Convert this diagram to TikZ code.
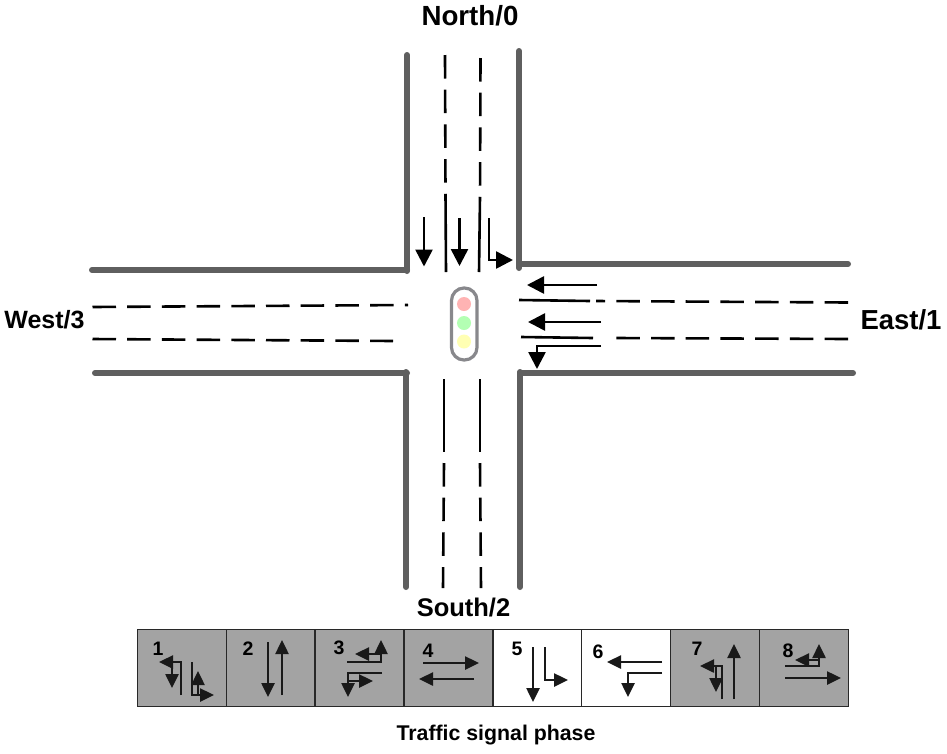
\documentclass[tikz,border=0pt]{standalone}
\usepackage{xcolor}
\usepackage{fontspec}
\setmainfont{Liberation Sans}
\usetikzlibrary{arrows.meta}
\definecolor{mykerb}{RGB}{95,95,95}
\definecolor{mypanel}{RGB}{163,163,163}
\definecolor{myframe}{RGB}{40,40,40}
\definecolor{mycase}{RGB}{136,136,140}
\definecolor{lampred}{RGB}{255,179,179}
\definecolor{lampgreen}{RGB}{179,255,179}
\definecolor{lampyellow}{RGB}{255,255,179}
\tikzset{
  kerb/.style={line width=6pt, color=mykerb, line cap=round},
  lane/.style={line width=2.6pt, color=black},
  dashlane/.style={lane, dash pattern=on 23.5pt off 11.2pt},
  roadarrow/.style={-{Stealth[length=17pt, width=17pt, inset=0pt]}, line width=2.6pt, color=black},
  phasearrow/.style={-{Stealth[length=14pt, width=13pt, inset=0pt]}, line width=2.5pt, color=black!90},
  cellgrey/.style={rectangle, draw=myframe, fill=mypanel, minimum width=89pt,
    minimum height=77pt, line width=1.4pt, outer sep=0pt},
  cellwhite/.style={cellgrey, fill=white},
  cellnum/.style={inner sep=0pt, font=\fontsize{19.5}{20}\selectfont\bfseries},
  roadname/.style={inner sep=0pt, font=\fontsize{#1}{28}\selectfont\bfseries},
  lamp/.style={circle, minimum size=14pt, inner sep=0pt, outer sep=0pt}
}

\begin{document}
\begin{tikzpicture}[x=1pt, y=-1pt]
  \useasboundingbox (0,0) rectangle (947,753);

  % Kerbs
  \draw[kerb] (407,55) -- (407,271);
  \draw[kerb] (92,270) -- (407,270);
  \draw[kerb] (519,51) -- (519,268);
  \draw[kerb] (519,264) -- (848,264);
  \draw[kerb] (95,373) -- (407,373);
  \draw[kerb] (406,372) -- (406,587);
  \draw[kerb] (520,373) -- (853,373);
  \draw[kerb] (520,372) -- (520,587);

  % North lanes
  \draw[dashlane] (445,55) -- (445.5,194);
  \draw[lane] (445.5,194) -- (446,272);
  \draw[dashlane] (480.5,58) -- (480,197);
  \draw[lane] (480,197) -- (479,272);

  % South lanes
  \draw[lane] (444,379) -- (444,452);
  \draw[dashlane] (444,463) -- (443,588);
  \draw[lane] (480,379) -- (480,452);
  \draw[dashlane] (480,463) -- (481,588);

  % West lanes
  \draw[dashlane] (92.5,307) -- (408,305);
  \draw[dashlane] (92.5,339) -- (393,341);

  % East lanes
  \draw[lane] (519,300) -- (590,301);
  \draw[dashlane] (848,302.5) -- (596,301);
  \draw[lane] (521,337) -- (593,338);
  \draw[dashlane] (848,339) -- (616,338);

  % Road arrows
  \draw[roadarrow] (424,217) -- (424,266.5);
  \draw[roadarrow] (459.5,218) -- (459.5,266);
  \draw[roadarrow] (489,218) -- (489,260) -- (513,260);
  \draw[roadarrow] (597,285) -- (527,285);
  \draw[roadarrow] (601,322) -- (528,322);
  \draw[roadarrow] (601,346) -- (537,346) -- (537,369);

  % Traffic light
  \draw[color=mycase, line width=3.2pt, fill=white, rounded corners=12.5pt] (451.5,288) rectangle (477,360);
  \node[lamp, fill=lampred] (redlamp) at (464,304) {};
  \node[lamp, fill=lampgreen] (greenlamp) at (464,323) {};
  \node[lamp, fill=lampyellow] (yellowlamp) at (464,341.5) {};

  % Road names
  \node[roadname=27.7] (north) at (470,16) {North/0};
  \node[roadname=27.5] (east) at (901,320) {East/1};
  \node[roadname=25.5] (south) at (463.5,608) {South/2};
  \node[roadname=25] (west) at (44.5,320) {West/3};

  % Phase cells
  \node[cellgrey] (cella) at (182,668) {};
  \node[cellgrey] (cellb) at (270.7,668) {};
  \node[cellgrey] (cellc) at (359.5,668) {};
  \node[cellgrey] (celld) at (448.7,668) {};
  \node[cellwhite] (celle) at (537.3,668) {};
  \node[cellwhite] (cellf) at (625.8,668) {};
  \node[cellgrey] (cellg) at (714.7,668) {};
  \node[cellgrey] (cellh) at (803.7,668) {};

  % Phase numbers
  \node[cellnum] (numa) at (158,649) {1};
  \node[cellnum] (numb) at (248,649) {2};
  \node[cellnum] (numc) at (339,648) {3};
  \node[cellnum] (numd) at (428,651) {4};
  \node[cellnum] (nume) at (517,649) {5};
  \node[cellnum] (numf) at (598,652) {6};
  \node[cellnum] (numg) at (697,649) {7};
  \node[cellnum] (numh) at (788,651) {8};

  % Phase 1
  \draw[phasearrow] (181,695) -- (181,662) -- (159,662);
  \draw[phasearrow] (172,662) -- (172,688);
  \draw[phasearrow] (192,662) -- (192,695) -- (214,695);
  \draw[phasearrow] (198,695) -- (198,671);

  % Phase 2
  \draw[phasearrow] (268,642) -- (268,697);
  \draw[phasearrow] (282,695) -- (282,640);

  % Phase 3
  \draw[phasearrow] (347,662) -- (381,662) -- (381,640);
  \draw[phasearrow] (381,654) -- (355,654);
  \draw[phasearrow] (382,673) -- (348,673) -- (348,697);
  \draw[phasearrow] (348,681) -- (373,681);

  % Phase 4
  \draw[phasearrow] (423,663) -- (479,663);
  \draw[phasearrow] (474,679) -- (419,679);

  % Phase 5
  \draw[phasearrow] (533,647) -- (533,702);
  \draw[phasearrow] (545,647) -- (545,680) -- (568,680);

  % Phase 6
  \draw[phasearrow] (662,662) -- (607,662);
  \draw[phasearrow] (662,673) -- (628,673) -- (628,697);

  % Phase 7
  \draw[phasearrow] (722,699) -- (722,666) -- (700,666);
  \draw[phasearrow] (716,666) -- (716,692);
  \draw[phasearrow] (734,699) -- (734,644);

  % Phase 8
  \draw[phasearrow] (785,666) -- (819,666) -- (819,644);
  \draw[phasearrow] (819,660) -- (795,660);
  \draw[phasearrow] (785,678) -- (841,678);

  \node[inner sep=0pt, font=\fontsize{21.3}{22}\selectfont\bfseries] (caption) at (496,735) {Traffic signal phase};
\end{tikzpicture}
\end{document}
